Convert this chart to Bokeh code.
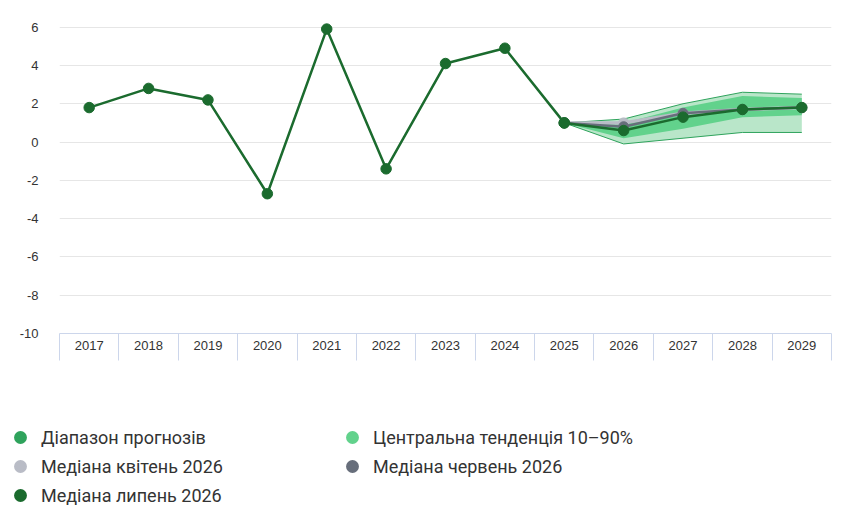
from bokeh.plotting import figure
from bokeh.models import Range1d, FixedTicker, Legend, LegendItem
from bokeh.layouts import column
from bokeh.embed import file_html
from bokeh.resources import INLINE

# historical values
years_hist = [2017, 2018, 2019, 2020, 2021, 2022, 2023, 2024, 2025]
gdp_hist = [1.8, 2.8, 2.2, -2.7, 5.9, -1.4, 4.1, 4.9, 1.0]

# forecast
years_fc = [2025, 2026, 2027, 2028, 2029]
range_hi = [1.0, 1.2, 2.0, 2.6, 2.5]
range_lo = [1.0, -0.1, 0.2, 0.5, 0.5]
central_hi = [1.0, 1.0, 1.8, 2.4, 2.3]
central_lo = [1.0, 0.2, 0.7, 1.3, 1.4]
median_apr = [1.0, 1.0, 1.5, 1.7, 1.8]
median_jun = [1.0, 0.8, 1.5, 1.7, 1.8]
median_jul = [1.0, 0.6, 1.3, 1.7, 1.8]

all_years = years_hist + years_fc[1:]
y_ticks = [-10, -8, -6, -4, -2, 0, 2, 4, 6]

legend_labels = ["Діапазон прогнозів", "Центральна тенденція 10–90%",
                 "Медіана квітень 2026", "Медіана червень 2026", "Медіана липень 2026"]

C_RANGE = "#2fa35c"
C_RANGE_FILL = "#b9e6c9"
C_CENTRAL = "#62d28c"
C_APR = "#b9bcc6"
C_JUN = "#676e7b"
C_JUL = "#1b6b2e"
AXIS_C = "#ccd6eb"
FONT = "Liberation Sans"

# top padding above 6 so the 2021 marker isn't clipped
p = figure(width=840, height=380, x_range=Range1d(2016.5, 2029.5), y_range=Range1d(-10, 6.4),
           output_backend="svg", toolbar_location=None,
           min_border_left=59, min_border_right=9, min_border_top=19, min_border_bottom=47)
p.outline_line_color = None
p.background_fill_color = "white"
p.frame_align = False

# bands
p.varea(x=years_fc, y1=range_lo, y2=range_hi, fill_color=C_RANGE_FILL)
p.varea(x=years_fc, y1=central_lo, y2=central_hi, fill_color=C_CENTRAL)
p.line(years_fc, range_hi, line_color=C_RANGE, line_width=1)
p.line(years_fc, range_lo, line_color=C_RANGE, line_width=1)

# medians
p.line(years_fc, median_apr, line_color=C_APR, line_width=3.5)
p.scatter(years_fc, median_apr, size=10, fill_color=C_APR, line_color=C_APR)
p.line(years_fc, median_jun, line_color=C_JUN, line_width=2.5)
p.scatter(years_fc, median_jun, size=10, fill_color=C_JUN, line_color=C_JUN)

p.line(years_hist, gdp_hist, line_color=C_JUL, line_width=2.5)
p.scatter(years_hist, gdp_hist, size=10.5, fill_color=C_JUL, line_color=C_JUL)
p.line(years_fc, median_jul, line_color=C_JUL, line_width=2.5)
p.scatter(years_fc, median_jul, size=10.5, fill_color=C_JUL, line_color=C_JUL)

# axes
p.yaxis.ticker = FixedTicker(ticks=y_ticks)
p.yaxis.major_label_overrides = {t: str(t) for t in y_ticks}
p.ygrid.ticker = FixedTicker(ticks=y_ticks)
p.ygrid.grid_line_color = "#e6e6e6"
p.xgrid.grid_line_color = None
p.yaxis.axis_line_color = None
p.yaxis.major_tick_line_color = None
p.yaxis.minor_tick_line_color = None
p.yaxis.major_label_standoff = 15
p.yaxis.major_label_text_font = FONT
p.yaxis.major_label_text_font_size = "13px"
p.yaxis.major_label_text_color = "#333333"

bounds = [y - 0.5 for y in all_years] + [all_years[-1] + 0.5]
p.xaxis.ticker = FixedTicker(ticks=all_years, minor_ticks=bounds)
p.xaxis.axis_line_color = AXIS_C
p.xaxis.major_tick_line_color = None
p.xaxis.minor_tick_line_color = AXIS_C
p.xaxis.minor_tick_in = 0
p.xaxis.minor_tick_out = 27
p.xaxis.major_label_standoff = -20
p.xaxis.major_label_text_font = FONT
p.xaxis.major_label_text_font_size = "13px"
p.xaxis.major_label_text_color = "#333333"

# legend in its own strip, dot markers
lg = figure(width=840, height=140, x_range=Range1d(0, 1), y_range=Range1d(0, 1),
            x_axis_type=None, y_axis_type=None, output_backend="svg", toolbar_location=None,
            min_border=0)
lg.outline_line_color = None
lg.grid.visible = False
lg.frame_align = False

colors = [C_RANGE, C_CENTRAL, C_APR, C_JUN, C_JUL]
items = []
for lab, c in zip(legend_labels, colors):
    # proxy point kept outside the visible range
    r = lg.scatter(x=[-5], y=[-5], size=10, fill_color=c, line_color=c, line_width=2.5)
    items.append(LegendItem(label=lab, renderers=[r]))

legend = Legend(items=items, location=(7, 12), orientation="horizontal", ncols=2,
                padding=0, margin=0, spacing=3, glyph_width=26, glyph_height=26,
                label_height=26, label_width=295, label_standoff=8,
                label_text_font="Roboto", label_text_font_size="18px",
                label_text_color="#333333", background_fill_alpha=0, border_line_alpha=0)
lg.add_layout(legend, "center")

open("out.html", "w").write(file_html(column(p, lg), INLINE))
